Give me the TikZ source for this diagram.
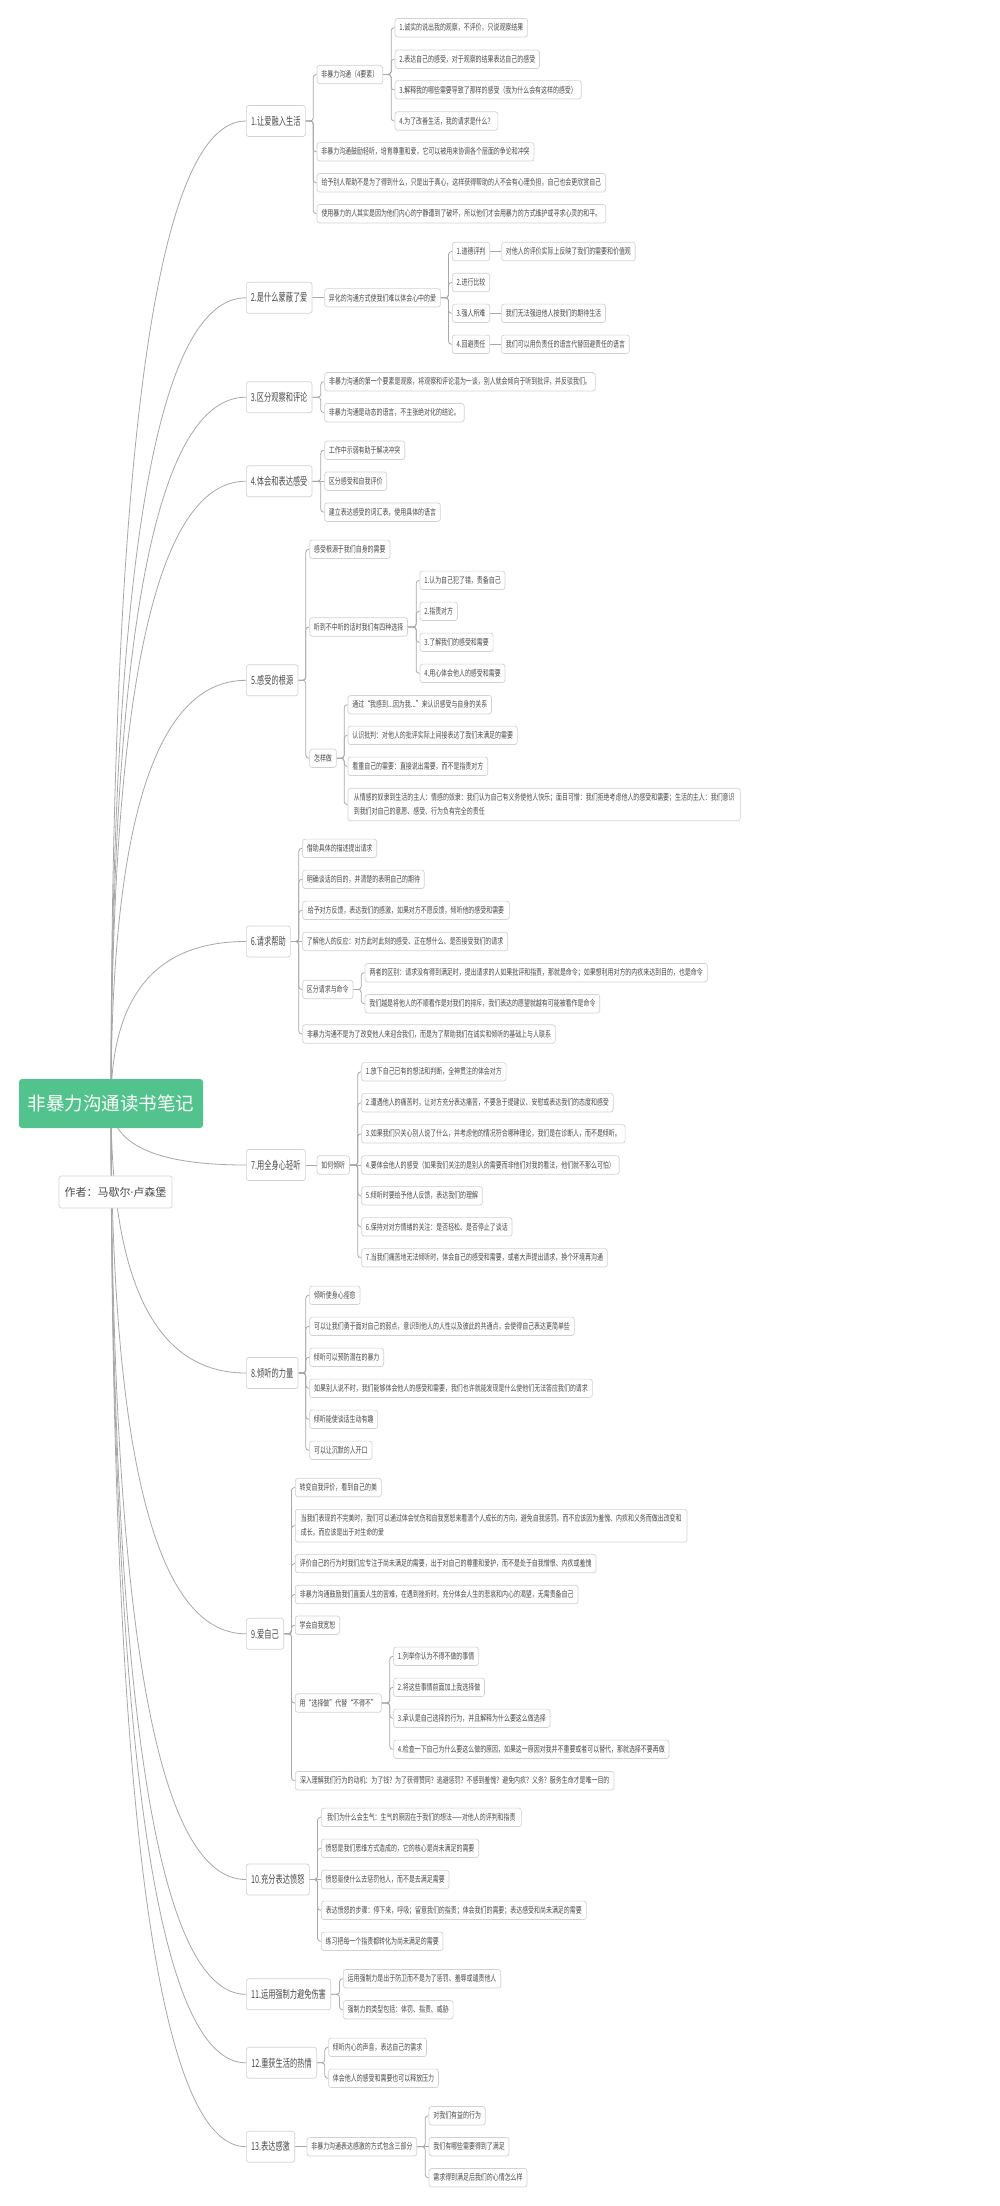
\documentclass[tikz,border=0pt]{standalone}
\usepackage{fontspec}
\newfontfamily\cjkS[FakeStretch=0.70]{Noto Sans CJK SC}
\newfontfamily\cjkM[FakeStretch=0.655]{Noto Sans CJK SC}
\newfontfamily\cjkT{Noto Sans CJK SC}
\newfontfamily\latinf{Noto Sans}
\usetikzlibrary{calc,backgrounds}
\definecolor{bordc}{HTML}{D2D2D2}
\definecolor{linec}{HTML}{A8A8A8}
\definecolor{txtc}{HTML}{4A4A4A}
\definecolor{greenc}{RGB}{82,195,140}
\tikzset{
  base/.style={draw=bordc, line width=0.7pt, fill=white, rounded corners=2.5pt, text=txtc, inner ysep=0pt, anchor=west},
  sub/.style={base, font=\cjkS\fontsize{8.5}{14}\selectfont, inner xsep=4.3pt, minimum height=18.4pt, align=left},
  lone/.style={base, font=\cjkM\fontsize{11}{13}\selectfont, inner xsep=4.5pt, minimum height=31pt},
  titlebox/.style={fill=greenc, rounded corners=3pt, text=white, font=\cjkT\fontsize{18.5}{20}\selectfont, minimum width=184pt, minimum height=49pt, inner sep=0pt},
  authorbox/.style={draw=bordc, line width=0.7pt, fill=white, rounded corners=2.5pt, text=txtc, font=\cjkT\fontsize{11}{13}\selectfont, minimum width=113pt, minimum height=32pt, inner sep=0pt},
  link/.style={draw=linec, line width=0.8pt, rounded corners=3pt},
  trunk/.style={draw=linec, line width=0.8pt},
}
\newcommand\brlink[2]{\draw[link] (#1.east) -| ([xshift=-3.5pt]#2.west) -- (#2.west);}
\newcommand\strlink[2]{\draw[trunk] (#1.east) -- (#2.west);}
\newcommand\rootlink[1]{%
  \coordinate (k-#1) at (T.center |- #1.west);
  \draw[trunk] (T.center) .. controls ($(T.center)!0.667!(k-#1)$) and ($(#1.west)!0.667!(k-#1)$) .. (#1.west);}
\begin{document}
\begin{tikzpicture}[x=1pt,y=-1pt]
\useasboundingbox (0,0) rectangle (1000,2206);
% root
\node[titlebox] (T) at (111,1103.5) {非暴力沟通读书笔记};
\node[authorbox] (A) at (115.5,1192) {作者：马歇尔{\latinf ·}卢森堡};
% section 1
\node[lone, minimum width=59pt] (s1) at (246,121) {1.让爱融入生活};
\node[sub, minimum width=65.6pt] (s1a) at (316.7,74.5) {非暴力沟通（4要素）};
\node[sub, minimum width=132pt] (s1a1) at (394.7,27.7) {1.诚实的说出我的观察，不评价，只说观察结果};
\node[sub, minimum width=144pt] (s1a2) at (394.7,59.2) {2.表达自己的感受，对于观察的结果表达自己的感受};
\node[sub, minimum width=186pt] (s1a3) at (394.7,89.8) {3.解释我的哪些需要导致了那样的感受（我为什么会有这样的感受）};
\node[sub, minimum width=102pt] (s1a4) at (394.7,121) {4.为了改善生活，我的请求是什么？};
\node[sub, minimum width=217pt] (s1b) at (316.7,151.8) {非暴力沟通鼓励轻听，培育尊重和爱，它可以被用来协调各个层面的争论和冲突};
\node[sub, minimum width=288.6pt] (s1c) at (316.7,182.7) {给予别人帮助不是为了得到什么，只是出于真心，这样获得帮助的人不会有心理负担，自己也会更欣赏自己};
\node[sub, minimum width=288.6pt] (s1d) at (316.7,213.7) {使用暴力的人其实是因为他们内心的宁静遭到了破坏，所以他们才会用暴力的方式维护或寻求心灵的和平。};
% section 2
\node[lone, minimum width=65.7pt] (s2) at (246,297.8) {2.是什么蒙蔽了爱};
\node[sub, minimum width=115.7pt] (s2a) at (324.3,297.8) {异化的沟通方式使我们难以体会心中的爱};
\node[sub, minimum width=36.7pt] (s2a1) at (452,251.5) {1.道德评判};
\node[sub, minimum width=36.7pt] (s2a2) at (452,282.5) {2.进行比较};
\node[sub, minimum width=36.7pt] (s2a3) at (452,313.3) {3.强人所难};
\node[sub, minimum width=36.7pt] (s2a4) at (452,344.3) {4.回避责任};
\node[sub, minimum width=133.4pt] (s2b1) at (501.3,251.5) {对他人的评价实际上反映了我们的需要和价值观};
\node[sub, minimum width=103.7pt] (s2b3) at (501.3,313.3) {我们无法强迫他人按我们的期待生活};
\node[sub, minimum width=127pt] (s2b4) at (501.3,344.3) {我们可以用负责任的语言代替回避责任的语言};
% section 3
\node[lone, minimum width=65.7pt] (s3) at (246,397.2) {3.区分观察和评论};
\node[sub, minimum width=270.7pt] (s3a) at (324.3,381.7) {非暴力沟通的第一个要素是观察，将观察和评论混为一谈，别人就会倾向于听到批评，并反驳我们。};
\node[sub, minimum width=139.4pt] (s3b) at (324.3,412.7) {非暴力沟通是动态的语言，不主张绝对化的结论。};
% section 4
\node[lone, minimum width=65.7pt] (s4) at (246,481.2) {4.体会和表达感受};
\node[sub, minimum width=79.4pt] (s4a) at (324.3,450.2) {工作中示弱有助于解决冲突};
\node[sub, minimum width=61.7pt] (s4b) at (324.3,481.2) {区分感受和自我评价};
\node[sub, minimum width=115.4pt] (s4c) at (324.3,512.2) {建立表达感受的词汇表，使用具体的语言};
% section 5
\node[lone, minimum width=51.7pt] (s5) at (246,680.3) {5.感受的根源};
\node[sub, minimum width=80.4pt] (s5a) at (309.3,549.3) {感受根源于我们自身的需要};
\node[sub, minimum width=97.7pt] (s5b) at (309.3,627) {听到不中听的话时我们有四种选择};
\node[sub, minimum width=26.7pt] (s5c) at (309.3,758.2) {怎样做};
\node[sub, minimum width=84.3pt] (s5b1) at (419.7,580.3) {1.认为自己犯了错，责备自己};
\node[sub, minimum width=36.6pt] (s5b2) at (419.7,611.3) {2.指责对方};
\node[sub, minimum width=72.3pt] (s5b3) at (419.7,642.3) {3.了解我们的感受和需要};
\node[sub, minimum width=84.3pt] (s5b4) at (419.7,673.3) {4.用心体会他人的感受和需要};
\node[sub, minimum width=142.3pt] (s5c1) at (347.7,704.7) {通过“我感到...因为我...”来认识感受与自身的关系};
\node[sub, minimum width=169.3pt] (s5c2) at (347.7,735.3) {认识批判：对他人的批评实际上间接表达了我们未满足的需要};
\node[sub, minimum width=139.6pt] (s5c3) at (347.7,766.3) {看重自己的需要：直接说出需要，而不是指责对方};
\node[sub, minimum width=392.3pt, minimum height=32.4pt] (s5c4) at (347.7,804.5) {从情感的奴隶到生活的主人：情感的奴隶：我们认为自己有义务使他人快乐；面目可憎：我们拒绝考虑他人的感受和需要；生活的主人：我们意识\\到我们对自己的意愿、感受、行为负有完全的责任};
% section 6
\node[lone, minimum width=44pt] (s6) at (246,941.5) {6.请求帮助};
\node[sub, minimum width=73.7pt] (s6a) at (302.3,848.3) {借助具体的描述提出请求};
\node[sub, minimum width=121.4pt] (s6b) at (302.3,879.3) {明确谈话的目的，并清楚的表明自己的期待};
\node[sub, minimum width=206.7pt] (s6c) at (302.3,910.3) {给予对方反馈，表达我们的感激，如果对方不愿反馈，倾听他的感受和需要};
\node[sub, minimum width=205pt] (s6d) at (302.3,941.5) {了解他人的反应：对方此时此刻的感受、正在想什么、是否接受我们的请求};
\node[sub, minimum width=49.7pt] (s6e) at (302.3,989.5) {区分请求与命令};
\node[sub, minimum width=252.7pt] (s6f) at (302.3,1034) {非暴力沟通不是为了改变他人来迎合我们，而是为了帮助我们在诚实和倾听的基础上与人联系};
\node[sub, minimum width=342.3pt] (s6e1) at (364.7,972.7) {两者的区别：请求没有得到满足时，提出请求的人如果批评和指责，那就是命令；如果想利用对方的内疚来达到目的，也是命令};
\node[sub, minimum width=234.6pt] (s6e2) at (364.7,1003.7) {我们越是将他人的不顺看作是对我们的排斥，我们表达的愿望就越有可能被看作是命令};
% section 7
\node[lone, minimum width=59pt] (s7) at (246,1165) {7.用全身心轻听};
\node[sub, minimum width=32.3pt] (s7a) at (316.7,1165) {如何倾听};
\node[sub, minimum width=144pt] (s7a1) at (361.3,1071.8) {1.放下自己已有的想法和判断，全神贯注的体会对方};
\node[sub, minimum width=251.4pt] (s7a2) at (361.3,1102.8) {2.遭遇他人的痛苦时，让对方充分表达痛苦，不要急于提建议、安慰或表达我们的态度和感受};
\node[sub, minimum width=263pt] (s7a3) at (361.3,1133.8) {3.如果我们只关心别人说了什么，并考虑他的情况符合哪种理论，我们是在诊断人，而不是倾听。};
\node[sub, minimum width=257.4pt] (s7a4) at (361.3,1165) {4.要体会他人的感受（如果我们关注的是别人的需要而非他们对我的看法，他们就不那么可怕）};
\node[sub, minimum width=119.7pt] (s7a5) at (361.3,1195.8) {5.倾听时要给予他人反馈，表达我们的理解};
\node[sub, minimum width=149.7pt] (s7a6) at (361.3,1226.8) {6.保持对对方情绪的关注：是否轻松、是否停止了谈话};
\node[sub, minimum width=245.4pt] (s7a7) at (361.3,1257.8) {7.当我们痛苦地无法倾听时，体会自己的感受和需要，或者大声提出请求，换个环境再沟通};
% section 8
\node[lone, minimum width=51.7pt] (s8) at (246,1373) {8.倾听的力量};
\node[sub, minimum width=50.4pt] (s8a) at (309.3,1295.3) {倾听使身心痊愈};
\node[sub, minimum width=264.7pt] (s8b) at (309.3,1326.3) {可以让我们勇于面对自己的弱点，意识到他人的人性以及彼此的共通点，会使得自己表达更简单些};
\node[sub, minimum width=74pt] (s8c) at (309.3,1357.3) {倾听可以预防潜在的暴力};
\node[sub, minimum width=282.7pt] (s8d) at (309.3,1388.3) {如果别人说不时，我们能够体会他人的感受和需要，我们也许就能发现是什么使他们无法答应我们的请求};
\node[sub, minimum width=68pt] (s8e) at (309.3,1419.3) {倾听能使谈话生动有趣};
\node[sub, minimum width=62.4pt] (s8f) at (309.3,1450.3) {可以让沉默的人开口};
% section 9
\node[lone, minimum width=37.3pt] (s9) at (246,1633.8) {9.爱自己};
\node[sub, minimum width=86pt] (s9a) at (295,1487.5) {转变自我评价，看到自己的美};
\node[sub, minimum width=391.7pt, minimum height=32.7pt] (s9b) at (295,1525.7) {当我们表现的不完美时，我们可以通过体会忧伤和自我宽恕来看清个人成长的方向，避免自我惩罚。而不应该因为羞愧、内疚和义务而做出改变和\\成长，而应该是出于对生命的爱};
\node[sub, minimum width=300.7pt] (s9c) at (295,1563.5) {评价自己的行为时我们应专注于尚未满足的需要，出于对自己的尊重和爱护，而不是处于自我憎恨、内疚或羞愧};
\node[sub, minimum width=282.7pt] (s9d) at (295,1594.5) {非暴力沟通鼓励我们直面人生的苦难，在遇到挫折时，充分体会人生的悲哀和内心的渴望，无需责备自己};
\node[sub, minimum width=44.3pt] (s9e) at (295,1625.2) {学会自我宽恕};
\node[sub, minimum width=86pt] (s9f) at (295,1703) {用“选择做”代替“不得不”};
\node[sub, minimum width=318.7pt] (s9g) at (295,1780.7) {深入理解我们行为的动机：为了钱？为了获得赞同？逃避惩罚？不感到羞愧？避免内疚？义务？服务生命才是唯一目的};
\node[sub, minimum width=84pt] (s9f1) at (393.3,1656.3) {1.列举你认为不得不做的事情};
\node[sub, minimum width=90pt] (s9f2) at (393.3,1687.3) {2.将这些事情前面加上我选择做};
\node[sub, minimum width=155.7pt] (s9f3) at (393.3,1718.3) {3.承认是自己选择的行为，并且解释为什么要这么做选择};
\node[sub, minimum width=275pt] (s9f4) at (393.3,1749.3) {4.检查一下自己为什么要这么做的原因，如果这一原因对我并不重要或者可以替代，那就选择不要再做};
% section 10
\node[lone, minimum width=63pt] (s10) at (246,1879.5) {10.充分表达愤怒};
\node[sub, minimum width=200pt] (s10a) at (321,1817.3) {我们为什么会生气：生气的原因在于我们的想法——对他人的评判和指责};
\node[sub, minimum width=157.3pt] (s10b) at (321,1848.3) {愤怒是我们思维方式造成的，它的核心是尚未满足的需要};
\node[sub, minimum width=127.7pt] (s10c) at (321,1879.5) {愤怒驱使什么去惩罚他人，而不是去满足需要};
\node[sub, minimum width=265pt] (s10d) at (321,1910.3) {表达愤怒的步骤：停下来，呼吸；留意我们的指责；体会我们的需要；表达感受和尚未满足的需要};
\node[sub, minimum width=121.3pt] (s10e) at (321,1941.3) {练习把每一个指责都转化为尚未满足的需要};
% section 11
\node[lone, minimum width=84.3pt] (s11) at (246,1994.3) {11.运用强制力避免伤害};
\node[sub, minimum width=157pt] (s11a) at (343,1978.7) {运用强制力是出于防卫而不是为了惩罚、羞辱或谴责他人};
\node[sub, minimum width=109.3pt] (s11b) at (343,2009.7) {强制力的类型包括：体罚、指责、威胁};
% section 12
\node[lone, minimum width=70.3pt] (s12) at (246,2062.8) {12.重获生活的热情};
\node[sub, minimum width=97.7pt] (s12a) at (328.3,2047.3) {倾听内心的声音，表达自己的需求};
\node[sub, minimum width=109.4pt] (s12b) at (328.3,2078.3) {体会他人的感受和需要也可以释放压力};
% section 13
\node[lone, minimum width=48.3pt] (s13) at (246,2146.7) {13.表达感激};
\node[sub, minimum width=109.3pt] (s13a) at (306.7,2146.7) {非暴力沟通表达感激的方式包含三部分};
\node[sub, minimum width=56pt] (s13a1) at (428.7,2115.7) {对我们有益的行为};
\node[sub, minimum width=79.3pt] (s13a2) at (428.7,2146.7) {我们有哪些需要得到了满足};
\node[sub, minimum width=97.3pt] (s13a3) at (428.7,2177.7) {需求得到满足后我们的心情怎么样};
% connectors
\begin{pgfonlayer}{background}
\fill[white] (0,0) rectangle (1000,2206);
\rootlink{s1}\rootlink{s2}\rootlink{s3}\rootlink{s4}\rootlink{s5}\rootlink{s6}\rootlink{s7}
\rootlink{s8}\rootlink{s9}\rootlink{s10}\rootlink{s11}\rootlink{s12}\rootlink{s13}
\brlink{s1}{s1a}\brlink{s1}{s1b}\brlink{s1}{s1c}\brlink{s1}{s1d}
\brlink{s1a}{s1a1}\brlink{s1a}{s1a2}\brlink{s1a}{s1a3}\brlink{s1a}{s1a4}
\strlink{s2}{s2a}
\brlink{s2a}{s2a1}\brlink{s2a}{s2a2}\brlink{s2a}{s2a3}\brlink{s2a}{s2a4}
\strlink{s2a1}{s2b1}\strlink{s2a3}{s2b3}\strlink{s2a4}{s2b4}
\brlink{s3}{s3a}\brlink{s3}{s3b}
\brlink{s4}{s4a}\strlink{s4}{s4b}\brlink{s4}{s4c}
\brlink{s5}{s5a}\brlink{s5}{s5b}\brlink{s5}{s5c}
\brlink{s5b}{s5b1}\brlink{s5b}{s5b2}\brlink{s5b}{s5b3}\brlink{s5b}{s5b4}
\brlink{s5c}{s5c1}\brlink{s5c}{s5c2}\brlink{s5c}{s5c3}\brlink{s5c}{s5c4}
\brlink{s6}{s6a}\brlink{s6}{s6b}\brlink{s6}{s6c}\strlink{s6}{s6d}\brlink{s6}{s6e}\brlink{s6}{s6f}
\brlink{s6e}{s6e1}\brlink{s6e}{s6e2}
\strlink{s7}{s7a}
\brlink{s7a}{s7a1}\brlink{s7a}{s7a2}\brlink{s7a}{s7a3}\strlink{s7a}{s7a4}\brlink{s7a}{s7a5}\brlink{s7a}{s7a6}\brlink{s7a}{s7a7}
\brlink{s8}{s8a}\brlink{s8}{s8b}\brlink{s8}{s8c}\brlink{s8}{s8d}\brlink{s8}{s8e}\brlink{s8}{s8f}
\brlink{s9}{s9a}\brlink{s9}{s9b}\brlink{s9}{s9c}\brlink{s9}{s9d}\brlink{s9}{s9e}\brlink{s9}{s9f}\brlink{s9}{s9g}
\brlink{s9f}{s9f1}\brlink{s9f}{s9f2}\brlink{s9f}{s9f3}\brlink{s9f}{s9f4}
\brlink{s10}{s10a}\brlink{s10}{s10b}\strlink{s10}{s10c}\brlink{s10}{s10d}\brlink{s10}{s10e}
\brlink{s11}{s11a}\brlink{s11}{s11b}
\brlink{s12}{s12a}\brlink{s12}{s12b}
\strlink{s13}{s13a}
\brlink{s13a}{s13a1}\strlink{s13a}{s13a2}\brlink{s13a}{s13a3}
\end{pgfonlayer}
\end{tikzpicture}
\end{document}
